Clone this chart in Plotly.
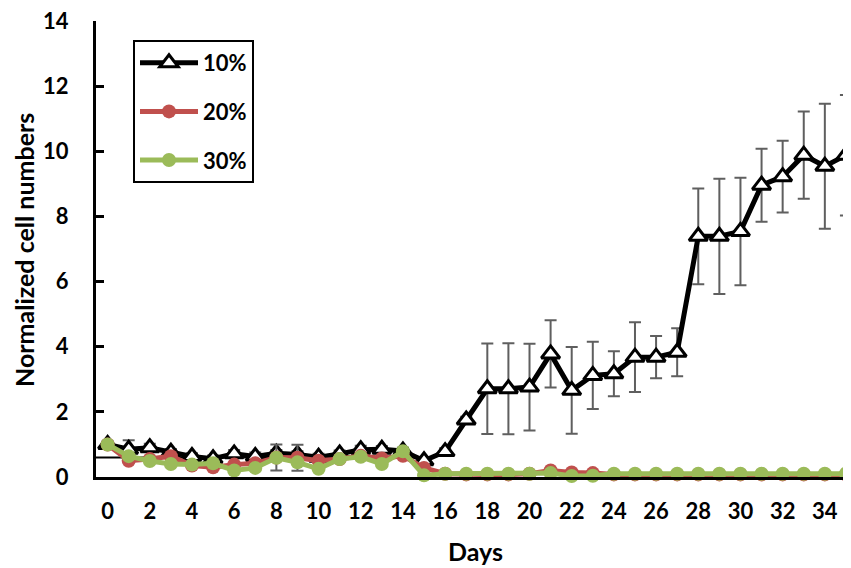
import plotly.graph_objects as go

days = list(range(36))
v10 = [1.0, 0.85, 0.9, 0.76, 0.63, 0.56, 0.71, 0.63, 0.73, 0.69, 0.61, 0.71, 0.84, 0.85, 0.8,
       0.5, 0.78, 1.75, 2.71, 2.71, 2.76, 3.78, 2.66, 3.12, 3.17, 3.68, 3.68, 3.83,
       7.39, 7.39, 7.54, 8.96, 9.22, 9.88, 9.54, 9.88]
e10 = [0.1, 0.28, 0.12, 0.1, 0.1, 0.1, 0.12, 0.12, 0.1, 0.1, 0.1, 0.1, 0.12, 0.1, 0.1,
       0.1, 0.1, 0.1, 1.39, 1.4, 1.33, 1.03, 1.33, 1.03, 0.69, 1.07, 0.65, 0.74,
       1.47, 1.77, 1.65, 1.12, 1.1, 1.34, 1.92, 1.85]
v20 = [1.0, 0.5, 0.55, 0.64, 0.35, 0.3, 0.38, 0.42, 0.6, 0.59, 0.5, 0.55, 0.65, 0.57, 0.65,
       0.28, 0.1, 0.08, 0.08, 0.08, 0.1, 0.2, 0.14, 0.12, 0.08, 0.08, 0.08, 0.08,
       0.08, 0.08, 0.08, 0.08, 0.08, 0.08, 0.08, 0.08]
e20 = [0.05, 0.05, 0.05, 0.05, 0.05, 0.05, 0.05, 0.05, 0.4, 0.4, 0.05, 0.05, 0.05, 0.05, 0.05,
       0.05, 0.02, 0.02, 0.02, 0.02, 0.02, 0.02, 0.02, 0.02, 0.02, 0.02, 0.02, 0.02,
       0.02, 0.02, 0.02, 0.02, 0.02, 0.02, 0.02, 0.02]
v30 = [1.0, 0.64, 0.49, 0.4, 0.38, 0.42, 0.2, 0.28, 0.59, 0.45, 0.25, 0.55, 0.62, 0.4, 0.79,
       0.05, 0.1, 0.1, 0.1, 0.1, 0.1, 0.12, 0.03, 0.04, 0.1, 0.1, 0.1, 0.1,
       0.1, 0.1, 0.1, 0.1, 0.1, 0.1, 0.1, 0.1]
xticks = list(range(0, 35, 2))
yticks = list(range(0, 15, 2))

ERR = "#5f5f5f"
FONT = "Lato"

# page body has an 8px margin: work in figure pixels = screen pixels - 8
OFF = 8
W, H = 851, 568
L, T = 96 - OFF, 21 - OFF
PLOT_BOTTOM = 477 - OFF
PLOT_RIGHT = 851 - OFF
R, B = W - PLOT_RIGHT, H - PLOT_BOTTOM
PW, PH = W - L - R, H - T - B


def px_x(sx):
    return (sx - OFF - L) / PW


def px_y(sy):
    return (PLOT_BOTTOM - (sy - OFF)) / PH


fig = go.Figure()
fig.add_trace(go.Scatter(
    x=days, y=v10, name="10%", mode="lines+markers", legendgroup="a",
    line=dict(color="black", width=5),
    marker=dict(symbol="triangle-up", size=16, color="white", line=dict(color="black", width=3)),
    error_y=dict(type="data", array=e10, color=ERR, thickness=2, width=6),
    cliponaxis=False,
))
fig.add_trace(go.Scatter(
    x=days, y=v20, name="20%", mode="lines+markers", legendgroup="b",
    line=dict(color="#C0504D", width=5),
    marker=dict(symbol="circle", size=14, color="#C0504D"),
    error_y=dict(type="data", array=e20, color=ERR, thickness=2, width=6),
    cliponaxis=False,
))
fig.add_trace(go.Scatter(
    x=days, y=v30, name="30%", mode="lines+markers", legendgroup="c",
    line=dict(color="#9BBB59", width=5),
    marker=dict(symbol="circle", size=14, color="#9BBB59"),
    cliponaxis=False,
))

fig.add_shape(type="line", xref="x", yref="y", x0=-0.55, x1=14.8, y0=0.6, y1=0.6,
              line=dict(color="black", width=2), layer="below")

tick_font = dict(family=FONT, size=22, color="black", weight="bold")
title_font = dict(family=FONT, size=25, color="black", weight="bold")

fig.add_annotation(text="Normalized cell numbers", textangle=-90, showarrow=False,
                   xref="paper", yref="paper", x=px_x(24), y=px_y(250),
                   xanchor="center", yanchor="middle", font=title_font)
fig.add_annotation(text="Days", showarrow=False,
                   xref="paper", yref="paper", x=px_x(475), y=px_y(551),
                   xanchor="center", yanchor="middle", font=title_font)

fig.update_layout(
    width=W, height=H,
    margin=dict(l=L, r=R, t=T, b=B, autoexpand=False),
    paper_bgcolor="white", plot_bgcolor="white",
    font=dict(family=FONT, color="black", size=22, weight="bold"),
    showlegend=True,
    legend=dict(
        x=px_x(133), y=px_y(40), xanchor="left", yanchor="top",
        bordercolor="black", borderwidth=2, bgcolor="white",
        font=dict(family=FONT, size=22, color="black", weight="bold"),
        tracegroupgap=17, itemwidth=58,
    ),
    xaxis=dict(
        range=[-0.55, 35.24], tickmode="array", tickvals=xticks,
        ticktext=[str(t) for t in xticks], automargin=False,
        showgrid=False, zeroline=False, showline=True, linecolor="black", linewidth=3,
        ticks="", ticklabelstandoff=13, tickfont=tick_font, ticklabeloverflow="allow",
    ),
    yaxis=dict(
        range=[0, 14], tickmode="array", tickvals=yticks, automargin=False,
        showgrid=False, zeroline=False, showline=True, linecolor="black", linewidth=3,
        ticks="inside", ticklen=8, tickwidth=3, tickcolor="black", ticklabelstandoff=20,
        tickfont=tick_font, ticklabeloverflow="allow",
    ),
)

fig.write_html("out.html")
